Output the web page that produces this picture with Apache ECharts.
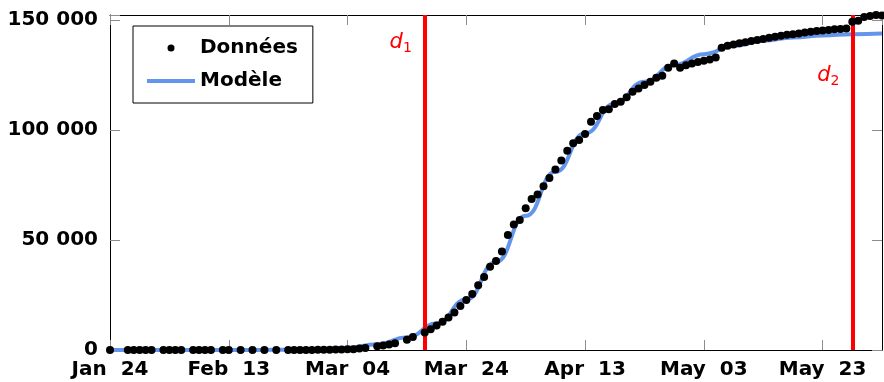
<!DOCTYPE html>
<html>
<head>
<meta charset="utf-8">
<script src="https://cdn.jsdelivr.net/npm/echarts@6/dist/echarts.min.js"></script>
<style>
html,body{margin:0;padding:0;background:#fff;}
#chart{width:884px;height:382px;}
</style>
</head>
<body>
<div id="chart"></div>
<script>
// Day index counted from 2020-01-24 (day 0)
const xTickLabels = ['Jan 24', 'Feb 13', 'Mar 04', 'Mar 24', 'Apr 13', 'May 03', 'May 23'];
const yTickValues = [0, 50000, 100000, 150000];

// Observed data (Données)
const obsDay = [0, 3, 4, 5, 6, 7, 9, 10, 11, 12, 14, 15, 16, 17, 19, 20, 22, 24, 26, 28,
  30, 31, 32, 33, 34, 35, 36, 37, 38, 39, 40, 41, 42, 43,
  45, 46, 47, 48, 50, 51, 53,
  54, 55, 56, 57, 58, 59, 60, 61, 62, 63, 64, 65, 66, 67, 68, 69, 70,
  71, 72, 73, 74, 75, 76, 77, 78, 79, 80, 81, 82, 83, 84, 85, 86, 87, 88, 89, 90,
  91, 92, 93, 94, 95, 96, 97, 98, 99, 100, 101, 102, 103, 104, 105, 106, 107, 108, 109, 110,
  111, 112, 113, 114, 115, 116, 117, 118, 119, 120, 121, 122, 123, 124, 125, 126, 127, 128, 129, 130];
const obsCases = [2, 3, 4, 5, 5, 6, 6, 6, 6, 11, 11, 11, 11, 12, 12, 12, 12, 12, 12, 12,
  12, 12, 14, 18, 38, 57, 100, 130, 191, 204, 288, 380, 656, 957,
  1700, 2100, 2500, 3100, 4700, 5900, 8000,
  9400, 11100, 12900, 14800, 17000, 20000, 22700, 25500, 29400, 33200, 37800, 40500, 44800, 52300, 57100, 59100, 64400,
  68600, 70700, 74400, 78200, 82100, 86200, 90600, 94000, 95500, 98200, 103800, 106400, 109100, 109500, 111800, 112900, 114900, 117400, 118900, 120500,
  122000, 123800, 124700, 128300, 130300, 128300, 129500, 130300, 130900, 131500, 132100, 133000, 137400, 138300, 138900, 139400, 139900, 140500, 140900, 141400,
  142000, 142400, 142900, 143300, 143600, 143900, 144400, 144700, 145000, 145300, 145500, 145800, 145900, 146200, 149200, 149700, 151400, 151900, 152300, 152100];

// Fitted model (Modèle), read every 5 days
const modelDay = [0, 5, 10, 15, 20, 25, 30, 35, 40, 45, 50, 55, 60, 65, 70, 75, 80, 85, 90, 95, 100, 105, 110, 115, 120, 125, 130];
const modelCases = [0, 0, 0, 0, 10, 40, 150, 400, 1000, 2600, 5800, 12000, 23000, 40000, 61000, 81000, 98500, 112000, 122000, 129500, 134500, 138200, 140600, 142100, 143000, 143600, 143900];

// Vertical event lines d1, d2
const eventDay = [53, 125];
const eventName = ['1', '2'];
const eventLabelY = [140000, 125000];

const FONT = 'DejaVu Sans';
const chart = echarts.init(document.getElementById('chart'));

function fmtX(v) {
  if (v % 20 !== 0) return '';
  const s = xTickLabels[v / 20];
  if (!s) return '';
  return s.replace(' ', '\u2002\u2009');
}
function fmtY(v) {
  if (yTickValues.indexOf(v) < 0) return '';
  return String(v).replace(/\B(?=(\d{3})+(?!\d))/g, ' ');
}

const axisLineStyle = { show: true, onZero: false, lineStyle: { color: '#000', width: 1 } };
const tickStyle = { show: true, inside: true, length: 10, lineStyle: { color: '#8c8c8c', width: 1 } };
const labelStyle = { fontFamily: FONT, fontWeight: 'bold', fontSize: 20, color: '#000' };

const option = {
  animation: false,
  backgroundColor: '#fff',
  grid: { left: 110, right: 2, top: 15, bottom: 32, show: false },
  legend: {
    data: [
      { name: 'Données', icon: 'circle', itemStyle: { color: '#000', opacity: 1 } },
      { name: 'Modèle', itemStyle: { opacity: 0 }, lineStyle: { color: '#6495ED', width: 4 } }
    ],
    orient: 'vertical',
    left: 133, top: 26,
    padding: [12, 15, 12, 12],
    itemGap: 13,
    itemWidth: 48, itemHeight: 7,
    backgroundColor: '#fff',
    borderColor: '#000', borderWidth: 1, borderRadius: 0,
    textStyle: { fontFamily: FONT, fontWeight: 'bold', fontSize: 20, color: '#000' }
  },
  xAxis: [
    { type: 'value', min: 0, max: 130, interval: 20, position: 'bottom',
      axisLine: axisLineStyle, axisTick: tickStyle, splitLine: { show: false },
      axisLabel: Object.assign({ margin: 10, formatter: fmtX, showMaxLabel: false }, labelStyle) },
    { type: 'value', min: 0, max: 130, interval: 20, position: 'top',
      axisLine: axisLineStyle, axisTick: tickStyle, splitLine: { show: false },
      axisLabel: { show: false } }
  ],
  yAxis: [
    { type: 'value', min: 0, max: 152300, interval: 50000, position: 'left',
      axisLine: axisLineStyle, axisTick: tickStyle, splitLine: { show: false },
      axisLabel: Object.assign({ margin: 12, formatter: fmtY }, labelStyle) },
    { type: 'value', min: 0, max: 152300, interval: 50000, position: 'right',
      axisLine: axisLineStyle, axisTick: tickStyle, splitLine: { show: false },
      axisLabel: { show: false } }
  ],
  series: [
    {
      name: 'Modèle', type: 'line', z: 1,
      data: modelDay.map((d, i) => [d, modelCases[i]]),
      symbol: 'none', smooth: 0.5, smoothMonotone: 'x',
      lineStyle: { color: '#6495ED', width: 4 },
      itemStyle: { color: '#6495ED' },
      markLine: {
        z: 2, silent: true, symbol: 'none', animation: false,
        lineStyle: { color: '#ff0000', width: 4, type: 'solid' },
        label: { show: false },
        data: eventDay.map(d => ({ xAxis: d }))
      },
      markPoint: {
        z: 4, silent: true, symbol: 'circle', symbolSize: 0,
        label: {
          show: true, offset: [-24, 0],
          formatter: p => '{d|d}{s|' + p.name + '}',
          rich: {
            d: { fontFamily: FONT, fontStyle: 'italic', fontSize: 21, color: '#ff0000', lineHeight: 26, verticalAlign: 'middle' },
            s: { fontFamily: FONT, fontSize: 14, color: '#ff0000', lineHeight: 26, verticalAlign: 'bottom', padding: [14, 0, 0, 0] }
          }
        },
        data: eventDay.map((d, i) => ({ name: eventName[i], coord: [d, eventLabelY[i]] }))
      }
    },
    {
      name: 'Données', type: 'scatter', z: 3, clip: false,
      data: obsDay.map((d, i) => [d, obsCases[i]]),
      symbol: 'circle', symbolSize: 8,
      itemStyle: { color: '#000', opacity: 1 }
    }
  ]
};
chart.setOption(option);
</script>
</body>
</html>
